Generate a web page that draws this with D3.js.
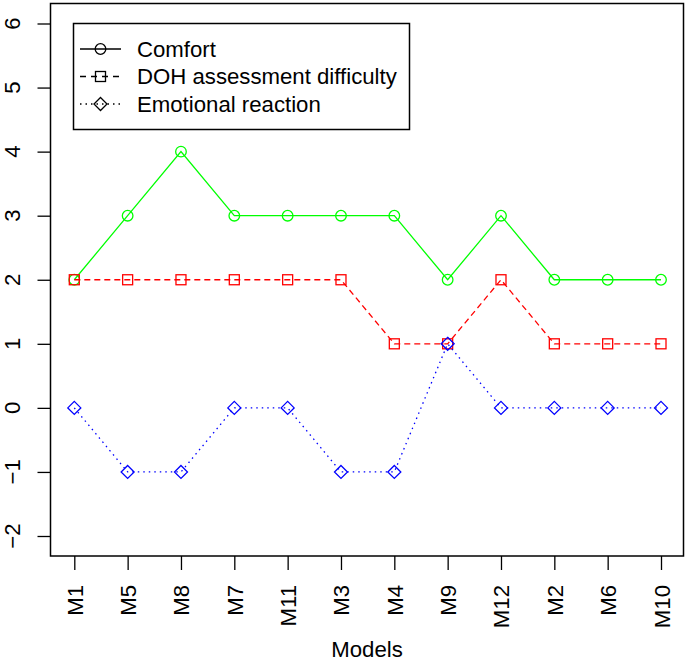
<!DOCTYPE html>
<html>
<head>
<meta charset="utf-8">
<script src="https://cdn.jsdelivr.net/npm/d3@7"></script>
<style>
  body { margin: 0; background: #fff; }
  svg { font-family: "Liberation Sans", Arial, sans-serif; }
</style>
</head>
<body>
<svg id="chart" width="685" height="665"></svg>
<script>
var models = ["M1", "M5", "M8", "M7", "M11", "M3", "M4", "M9", "M12", "M2", "M6", "M10"];
var comfort = [2, 3, 4, 3, 3, 3, 3, 2, 3, 2, 2, 2];
var dohDifficulty = [2, 2, 2, 2, 2, 2, 1, 1, 2, 1, 1, 1];
var emotional = [0, -1, -1, 0, 0, -1, -1, 1, 0, 0, 0, 0];
var yTicks = [-2, -1, 0, 1, 2, 3, 4, 5, 6];

var series = [
  { name: "Comfort", values: comfort, color: "#00ff00", dash: null, shape: "circle" },
  { name: "DOH assessment difficulty", values: dohDifficulty, color: "#ff0000", dash: "6,4", shape: "square" },
  { name: "Emotional reaction", values: emotional, color: "#0000ff", dash: "1.5,4", shape: "diamond" }
];

var svg = d3.select("#chart");
var box = { left: 50.5, right: 683.5, top: 3.5, bottom: 556 };
var fontSize = 22.2;

var xScale = d3.scalePoint()
  .domain(models)
  .range([74.3, 661]);

var yScale = d3.scaleLinear()
  .domain([-2, 6])
  .range([536, 23.5]);

function drawShape(g, shape, color) {
  if (shape === "circle") {
    g.append("circle").attr("r", 5.3)
      .attr("fill", "none").attr("stroke", color).attr("stroke-width", 1.3);
  } else if (shape === "square") {
    g.append("rect").attr("x", -5).attr("y", -5).attr("width", 10).attr("height", 10)
      .attr("fill", "none").attr("stroke", color).attr("stroke-width", 1.3);
  } else {
    g.append("path").attr("d", "M0,-6.5L6.5,0L0,6.5L-6.5,0Z")
      .attr("fill", "none").attr("stroke", color).attr("stroke-width", 1.3);
  }
}

// axes
var xAxis = d3.axisBottom(xScale).tickSize(14).tickFormat("");
svg.append("g")
  .attr("transform", `translate(0, ${box.bottom})`)
  .call(xAxis)
  .call(g => g.select(".domain").remove())
  .selectAll("line").attr("stroke", "#000").attr("stroke-width", 1.3);

svg.append("g")
  .selectAll("text")
  .data(models)
  .join("text")
  .attr("transform", d => `translate(${xScale(d) + 8.5}, 585) rotate(-90)`)
  .attr("text-anchor", "end")
  .attr("font-size", fontSize)
  .text(d => d);

var yAxis = d3.axisLeft(yScale).tickValues(yTicks).tickSize(13).tickFormat("");
svg.append("g")
  .attr("transform", `translate(${box.left}, 0)`)
  .call(yAxis)
  .call(g => g.select(".domain").remove())
  .selectAll("line").attr("stroke", "#000").attr("stroke-width", 1.3);

svg.append("g")
  .selectAll("text")
  .data(yTicks)
  .join("text")
  .attr("transform", d => `translate(20, ${yScale(d)}) rotate(-90)`)
  .attr("text-anchor", "middle")
  .attr("font-size", fontSize)
  .text(d => d < 0 ? "\u2212" + Math.abs(d) : d);

svg.append("text")
  .attr("x", (box.left + box.right) / 2)
  .attr("y", 657)
  .attr("text-anchor", "middle")
  .attr("font-size", fontSize)
  .text("Models");

// plot box
svg.append("rect")
  .attr("x", box.left).attr("y", box.top)
  .attr("width", box.right - box.left).attr("height", box.bottom - box.top)
  .attr("fill", "none").attr("stroke", "#000").attr("stroke-width", 1.5);

// series
var line = d3.line()
  .x((d, i) => xScale(models[i]))
  .y(d => yScale(d));

series.forEach(s => {
  svg.append("path")
    .datum(s.values)
    .attr("fill", "none")
    .attr("stroke", s.color)
    .attr("stroke-width", 1.3)
    .attr("stroke-dasharray", s.dash)
    .attr("d", line);

  svg.append("g")
    .selectAll("g")
    .data(s.values)
    .join("g")
    .attr("transform", (d, i) => `translate(${xScale(models[i])}, ${yScale(d)})`)
    .each(function () { drawShape(d3.select(this), s.shape, s.color); });
});

// legend
var legend = svg.append("g");
legend.append("rect")
  .attr("x", 73.5).attr("y", 23.5).attr("width", 336).attr("height", 106)
  .attr("fill", "#fff").attr("stroke", "#000").attr("stroke-width", 1.5);

var rows = legend.selectAll("g.row")
  .data(series)
  .join("g")
  .attr("class", "row")
  .attr("transform", (d, i) => `translate(0, ${49 + i * 27.5})`);

rows.append("line")
  .attr("x1", 80).attr("x2", 121).attr("y1", 0).attr("y2", 0)
  .attr("stroke", "#000").attr("stroke-width", 1.3)
  .attr("stroke-dasharray", d => d.shape === "square" ? "6,5" : d.dash);

rows.append("g")
  .attr("transform", "translate(100.5, 0)")
  .each(function (d) { drawShape(d3.select(this), d.shape, "#000"); });

rows.append("text")
  .attr("x", 137).attr("y", 7.8)
  .attr("font-size", fontSize)
  .text(d => d.name);
</script>
</body>
</html>
